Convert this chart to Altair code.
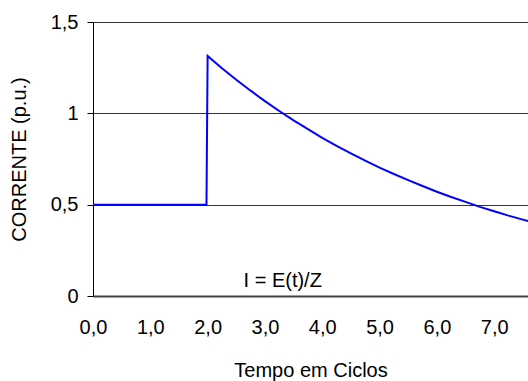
import altair as alt
import pandas as pd

# Time in cycles and current in per-unit
tempo = [0.0, 1.98, 2.0, 2.25, 2.5, 2.75, 3.0, 3.25, 3.5, 3.75, 4.0, 4.25, 4.5,
         4.75, 5.0, 5.25, 5.5, 5.75, 6.0, 6.25, 6.5, 6.75, 7.0, 7.25, 7.5, 7.75]
corrente = [0.5, 0.5, 1.314, 1.247, 1.184, 1.124, 1.067, 1.013, 0.961, 0.913,
            0.866, 0.822, 0.781, 0.741, 0.703, 0.668, 0.634, 0.602, 0.571,
            0.542, 0.515, 0.488, 0.464, 0.440, 0.418, 0.397]

x_ticks = [0, 1, 2, 3, 4, 5, 6, 7]
y_ticks = [0, 0.5, 1, 1.5]

formula_label = ["I = E(t)/Z"]
formula_x = [3.31]
formula_y = [0.08]

FONT = "Liberation Sans"
FS = 20

df = pd.DataFrame({"t": tempo, "i": corrente})
df_txt = pd.DataFrame({"label": formula_label, "t": formula_x, "i": formula_y})

x_scale = alt.Scale(domain=[0, 7.59], nice=False, zero=False)
y_scale = alt.Scale(domain=[0, 1.5], nice=False)

line = alt.Chart(df).mark_line(color="#0000FF", strokeWidth=2, clip=True).encode(
    x=alt.X(
        "t:Q",
        scale=x_scale,
        axis=alt.Axis(
            title="Tempo em Ciclos",
            values=x_ticks,
            labelExpr="replace(format(datum.value, '.1f'), '.', ',')",
            labelFlush=False,
            labelOverlap=False,
            grid=False,
            ticks=False,
            domainColor="#404040",
            domainWidth=2,
            labelPadding=21,
            titlePadding=23,
        ),
    ),
    y=alt.Y(
        "i:Q",
        scale=y_scale,
        axis=alt.Axis(
            title="CORRENTE (p.u.)",
            values=y_ticks,
            labelExpr="replace(format(datum.value, '~g'), '.', ',')",
            labelFlush=False,
            labelOverlap=False,
            grid=True,
            gridColor="#333333",
            gridWidth=1,
            gridOpacity=1,
            ticks=True,
            tickSize=6,
            tickColor="#000000",
            domainColor="#000000",
            domainWidth=1,
            labelPadding=9,
            titlePadding=21,
        ),
    ),
)

txt = alt.Chart(df_txt).mark_text(
    font=FONT, fontSize=FS, color="#000000", align="center", baseline="middle"
).encode(
    x=alt.X("t:Q", scale=x_scale),
    y=alt.Y("i:Q", scale=y_scale),
    text="label:N",
)

chart = (
    alt.layer(line, txt)
    .properties(
        width=435,
        height=274,
        autosize=alt.AutoSizeParams(type="none"),
        padding={"left": 93, "top": 22, "right": 0, "bottom": 85},
        background="white",
    )
    .configure_view(stroke=None)
    .configure_axis(
        labelFont=FONT,
        titleFont=FONT,
        labelFontSize=FS,
        titleFontSize=FS,
        labelColor="#000000",
        titleColor="#000000",
        titleFontWeight="normal",
    )
)

chart.save("out.html", embed_options={"renderer": "svg", "actions": False})
